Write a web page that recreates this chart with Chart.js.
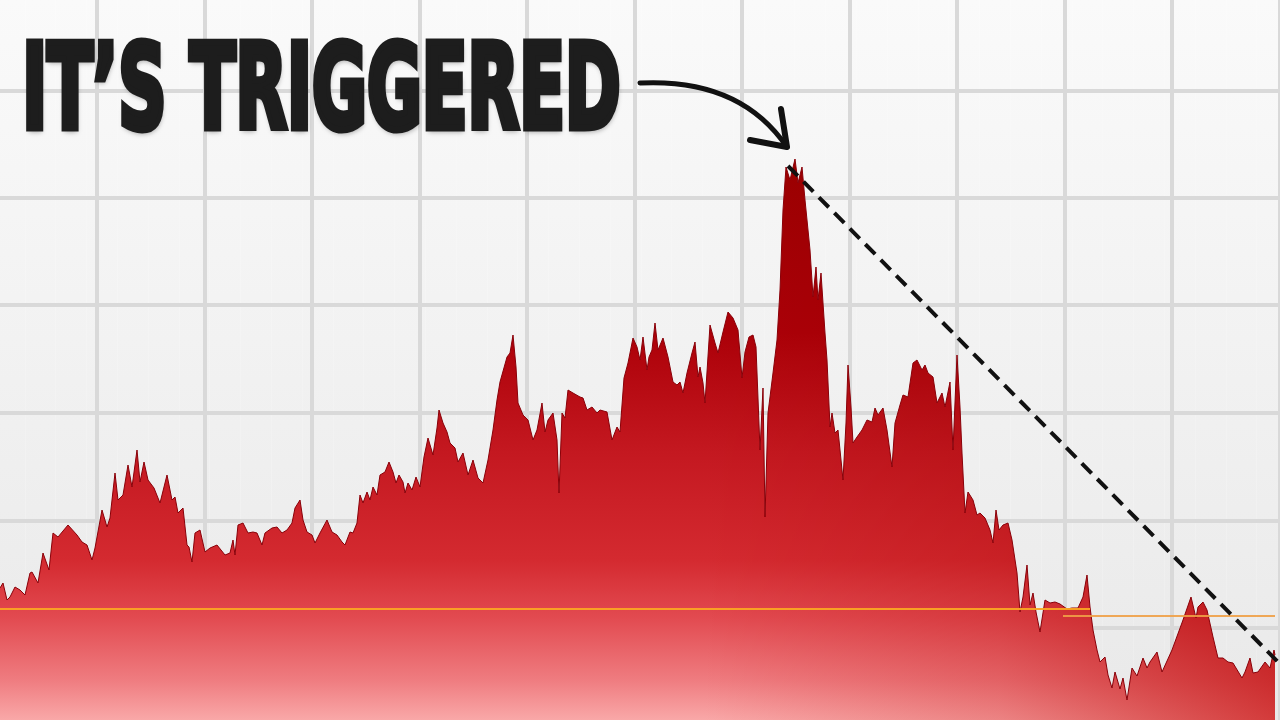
<!DOCTYPE html>
<html>
<head>
<meta charset="utf-8">
<style>
html, body { margin: 0; padding: 0; background: #f2f2f2; overflow: hidden; }
#wrap { position: relative; width: 1280px; height: 720px; }
#chart { position: absolute; left: 0; top: 0; }
#headline {
  position: absolute; left: 0; top: 0; margin: 0; white-space: nowrap;
  font-family: "DejaVu Sans Condensed", "DejaVu Sans", sans-serif;
  font-weight: bold; font-size: 100px; line-height: 1;
  color: #1d1d1d; -webkit-text-stroke: 6px #1d1d1d;
  transform-origin: 0 0;
  text-shadow: 1px 3px 6px rgba(0, 0, 0, 0.35);
}
#probe { display: inline-block; width: 0; height: 0; vertical-align: baseline; }
</style>
</head>
<body>
<div id="wrap">
  <canvas id="chart" width="1280" height="720"></canvas>
  <div id="headline">IT’S TRIGGERED<span id="probe"></span></div>
</div>

<script src="https://cdn.jsdelivr.net/npm/chart.js"></script>

<script>
// sample times and prices
const t = [0,3,7,10,15,20,25,30,32,38,43,49,53,58,68,77,82,87,92,95,
  102,107,110,115,118,123,128,132,137,140,144,148,154,160,167,172,175,178,183,187,189,192,195,
  200,205,210,217,225,230,233,235,238,243,248,253,257,262,265,272,277,282,287,292,295,
  300,303,307,312,315,320,327,332,337,342,345,350,353,357,360,363,367,370,373,377,380,385,389,393,396,399,
  403,405,408,412,416,420,424,428,433,437,439,443,447,450,455,458,463,468,473,478,483,488,493,497,
  500,507,510,513,516,518,523,528,533,537,542,545,548,553,557,559,562,565,568,573,580,583,587,592,597,
  600,607,612,617,620,624,628,633,637,640,643,647,649,652,655,658,663,668,673,677,680,683,687,692,695,698,
  700,703,705,710,715,718,723,728,733,738,742,745,749,753,756,760,763,765,768,773,777,780,783,786,790,795,798,
  802,805,810,813,816,818,821,825,827,830,832,835,838,843,846,848,851,853,857,862,867,872,875,878,883,887,892,895,
  900,903,908,913,917,922,925,928,933,937,942,945,950,953,957,960,962,965,968,973,977,980,985,990,993,996,999,
  1003,1008,1012,1017,1020,1023,1027,1030,1033,1036,1040,1045,1050,1055,1060,1067,1072,1078,1083,1087,1090,1093,1097,
  1100,1105,1108,1112,1115,1120,1123,1127,1132,1137,1143,1147,1150,1157,1162,1172,1183,1191,1196,1198,
  1203,1207,1213,1218,1223,1228,1233,1242,1245,1250,1253,1258,1265,1270,1274,1275];

const price = [13.2,13.7,12.0,12.3,13.3,13.0,12.5,14.7,14.8,13.7,16.7,15.0,18.7,18.3,19.5,18.5,17.8,17.5,16.0,17.2,
  21.0,19.3,20.2,24.7,22.0,22.5,25.5,23.3,27.0,23.8,25.8,24.0,23.2,21.7,24.5,22.0,22.3,20.7,21.2,17.5,17.3,15.8,18.7,
  19.0,16.8,17.2,17.5,16.5,16.7,18.0,16.5,19.5,19.7,18.7,18.8,18.7,17.5,18.7,19.2,19.3,18.7,19.0,19.7,21.2,
  22.0,20.0,18.8,18.5,17.7,18.7,20.0,18.8,18.5,17.8,17.5,18.8,18.7,19.7,22.5,21.7,22.8,22.0,23.3,22.5,24.5,24.8,25.8,24.8,23.7,24.5,
  23.8,22.7,23.7,23.0,24.3,23.3,26.3,28.2,26.5,29.2,31.0,29.7,28.8,27.7,27.2,25.8,26.7,24.5,26.0,24.2,23.7,26.0,29.0,32.0,
  33.8,36.3,36.7,38.5,35.3,31.7,30.5,30.0,28.0,29.0,31.7,28.8,30.0,30.7,28.0,22.7,30.7,30.2,33.0,32.7,32.3,32.2,31.0,31.3,30.7,
  31.0,30.8,28.0,29.3,28.8,34.2,35.7,38.2,37.3,36.0,38.3,35.0,36.3,37.0,39.7,37.0,38.2,36.3,33.8,33.5,33.8,32.7,34.7,36.7,37.8,34.3,
  35.3,33.7,31.7,39.5,37.7,36.7,38.8,40.8,40.2,39.0,34.2,36.8,38.3,38.5,37.3,27.0,33.2,20.3,30.7,34.7,38.0,43.0,51.0,55.3,54.0,56.1,53.7,
  55.3,52.0,47.0,42.3,45.3,42.0,44.7,38.7,36.0,29.3,30.7,28.7,29.0,24.0,29.7,35.5,31.3,27.7,28.3,29.0,30.0,29.8,31.2,30.5,31.2,29.0,25.3,29.7,
  31.5,32.5,32.3,35.7,36.0,35.0,35.5,34.7,34.3,31.7,32.7,31.3,33.8,27.0,36.5,31.3,26.7,20.7,22.8,22.0,20.5,20.7,20.2,19.0,17.7,21.0,19.0,
  19.5,19.7,18.0,14.7,10.8,12.3,15.5,11.5,12.7,10.8,8.8,12.0,11.7,11.8,11.6,11.1,11.2,11.2,12.3,14.5,11.3,9.0,7.0,
  5.8,6.3,4.5,3.2,4.8,3.1,4.2,2.0,5.2,4.4,6.2,5.2,5.8,6.8,4.8,7.0,10.0,12.3,10.2,11.3,
  11.8,11.0,8.3,6.2,6.2,5.8,5.7,4.2,4.8,6.2,4.7,4.8,5.8,5.2,7.0,6.5];

// orange reference levels
const levelT = [[0, 1090], [1063, 1275]];
const levelPrice = [11.1, 10.4];

// dashed trend from the top
const trendT = [788, 1280];
const trendPrice = [55.4, 5.6];

// arrow pointing at the top: start, control, tip, two head ends
const arrowT = [640, 740, 787, 781, 750];
const arrowPrice = [63.7, 64.2, 57.3, 61.1, 58.0];

// grid positions
const xGrid = [97, 204.5, 312, 419.5, 527, 634.5, 742, 849.5, 957, 1064.5, 1172, 1279.5];
const yGrid = [9.2, 19.95, 30.7, 41.45, 52.2, 62.95];
const stripes = [];
for (let s = 25; s < 1280; s += 30.8) stripes.push(s);

let fillCache = null;
function areaFill(chart) {
  if (fillCache) return fillCache;
  const off = document.createElement('canvas');
  off.width = chart.width; off.height = chart.height;
  const c = off.getContext('2d');
  const v = c.createLinearGradient(0, 150, 0, 720);
  v.addColorStop(0, '#9c0000');
  v.addColorStop(0.32, '#ac0008');
  v.addColorStop(0.53, '#c41820');
  v.addColorStop(0.72, '#d42a30');
  v.addColorStop(0.82, '#e24a50');
  v.addColorStop(0.93, '#ef7c80');
  v.addColorStop(1, '#f9a8a8');
  c.fillStyle = v;
  c.fillRect(0, 0, off.width, off.height);
  // darker, still saturated red towards the right
  c.globalCompositeOperation = 'multiply';
  const h = c.createLinearGradient(0, 0, off.width, 0);
  h.addColorStop(0, '#ffffff');
  h.addColorStop(0.55, '#ffffff');
  h.addColorStop(0.78, '#f2c8c8');
  h.addColorStop(1, '#d85858');
  c.fillStyle = h;
  c.fillRect(0, 0, off.width, off.height);
  fillCache = chart.ctx.createPattern(off, 'no-repeat');
  return fillCache;
}

const backdrop = {
  id: 'backdrop',
  beforeDraw(chart) {
    const c = chart.ctx;
    const g = c.createLinearGradient(0, 0, 0, chart.height);
    g.addColorStop(0, '#fafafa');
    g.addColorStop(1, '#e9e9e9');
    c.save();
    c.fillStyle = g;
    c.fillRect(0, 0, chart.width, chart.height);
    c.restore();
  }
};

const arrow = {
  id: 'arrow',
  afterDraw(chart) {
    const x = chart.scales.x, y = chart.scales.y, c = chart.ctx;
    const px = arrowT.map(v => x.getPixelForValue(v));
    const py = arrowPrice.map(v => y.getPixelForValue(v));
    c.save();
    c.strokeStyle = '#111';
    c.lineWidth = 5;
    c.lineCap = 'round';
    c.lineJoin = 'round';
    c.beginPath();
    c.moveTo(px[0], py[0]);
    c.quadraticCurveTo(px[1], py[1], px[2], py[2]);
    c.stroke();
    c.lineWidth = 6;
    c.beginPath();
    c.moveTo(px[3], py[3]);
    c.lineTo(px[2], py[2]);
    c.lineTo(px[4], py[4]);
    c.stroke();
    c.restore();
  }
};

const ctx = document.getElementById('chart');

let chart = new Chart(ctx, {
  type: 'line',
  data: {
    datasets: [
      {
        data: trendT.map((v, i) => ({ x: v, y: trendPrice[i] })),
        borderColor: '#111',
        borderWidth: 4,
        borderDash: [14, 8],
        pointRadius: 0,
        fill: false,
        order: 0
      },
      {
        data: levelT[0].map(v => ({ x: v, y: levelPrice[0] })),
        borderColor: 'rgba(250,165,35,0.95)',
        borderWidth: 2,
        pointRadius: 0,
        fill: false,
        order: 1
      },
      {
        data: levelT[1].map(v => ({ x: v, y: levelPrice[1] })),
        borderColor: 'rgba(240,160,70,0.9)',
        borderWidth: 2,
        pointRadius: 0,
        fill: false,
        order: 1
      },
      {
        data: t.map((v, i) => ({ x: v, y: price[i] })),
        borderColor: '#8a0008',
        borderWidth: 1,
        backgroundColor: (c) => areaFill(c.chart),
        pointRadius: 0,
        tension: 0,
        fill: 'start',
        order: 2
      }
    ]
  },
  options: {
    responsive: false,
    animation: false,
    layout: { padding: 0 },
    plugins: { legend: { display: false }, tooltip: { enabled: false } },
    scales: {
      x: {
        type: 'linear', min: 0, max: 1280,
        ticks: { display: false },
        border: { display: false },
        grid: { color: '#d9d9d9', lineWidth: 4, drawTicks: false },
        afterBuildTicks: s => { s.ticks = xGrid.map(v => ({ value: v })); }
      },
      x2: {
        type: 'linear', position: 'bottom', min: 0, max: 1280, z: 1,
        ticks: { display: false },
        border: { display: false },
        grid: { color: 'rgba(255,255,255,0.18)', lineWidth: 1, drawTicks: false },
        afterBuildTicks: s => { s.ticks = stripes.map(v => ({ value: v })); }
      },
      y: {
        min: 0, max: 72,
        ticks: { display: false },
        border: { display: false },
        grid: { color: '#d9d9d9', lineWidth: 4, drawTicks: false },
        afterBuildTicks: s => { s.ticks = yGrid.map(v => ({ value: v })); }
      }
    }
  },
  plugins: [backdrop, arrow]
});

// fit the headline into its box: left 26, top 37, right 620, bottom 133
function placeHeadline() {
  const el = document.getElementById('headline');
  const probe = document.getElementById('probe');
  const m = document.createElement('canvas').getContext('2d');
  m.font = 'bold 100px "DejaVu Sans Condensed", "DejaVu Sans", sans-serif';
  const tm = m.measureText('IT’S TRIGGERED');
  const s = 6;
  const inkL = -tm.actualBoundingBoxLeft - s / 2;
  const inkW = tm.actualBoundingBoxLeft + tm.actualBoundingBoxRight + s;
  const asc = tm.actualBoundingBoxAscent;
  const inkH = asc + tm.actualBoundingBoxDescent + s;
  const base = probe.offsetTop;
  const sx = 594 / inkW, sy = 96 / inkH;
  const inkTop = base - asc - s / 2;
  el.style.transform = `translate(${26 - inkL * sx}px, ${37 - inkTop * sy}px) scale(${sx}, ${sy})`;
}
placeHeadline();
</script>
</body>
</html>
